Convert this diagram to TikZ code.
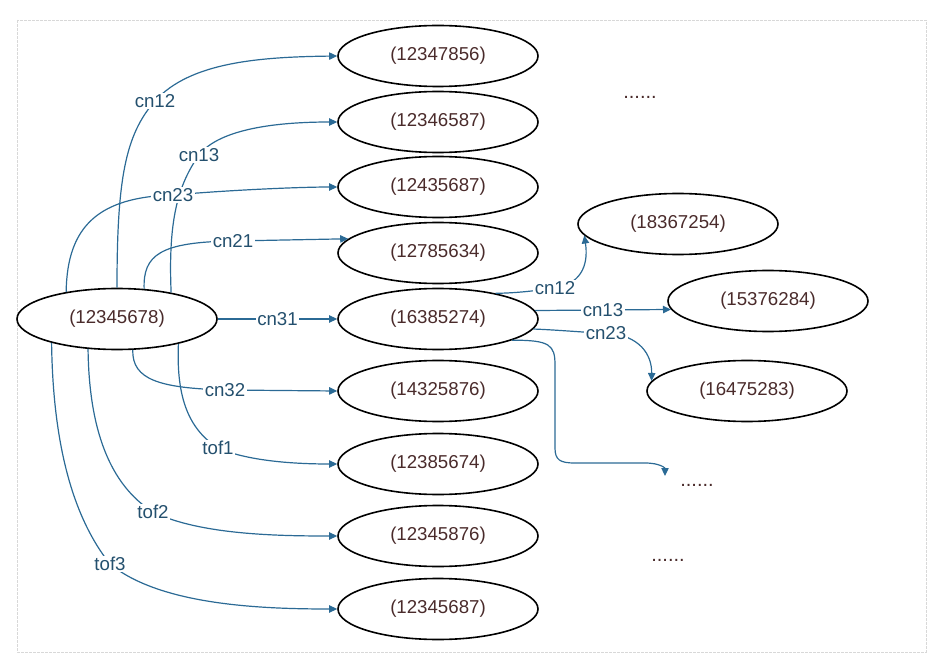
\documentclass[tikz,border=0pt]{standalone}
\usepackage{fontspec}
\setmainfont{Liberation Sans}
\usetikzlibrary{shapes.geometric,arrows.meta}
\definecolor{edgeblue}{HTML}{2B6A95}
\definecolor{lblblue}{HTML}{24506E}
\definecolor{nodetxt}{HTML}{4A2B2B}
\definecolor{framegray}{HTML}{D8D8D8}
\tikzset{
  state/.style={ellipse, draw=black, line width=1.2pt, minimum width=150pt, minimum height=45.75pt, inner sep=0pt, text=nodetxt, font=\fontsize{14}{16}\selectfont},
  edge/.style={draw=edgeblue, line width=0.9pt, -{Triangle[length=6pt,width=5.5pt]}},
  lbl/.style={fill=white, text=lblblue, inner sep=1pt, font=\fontsize{14}{16}\selectfont},
  dots/.style={text=nodetxt, inner sep=0pt, font=\fontsize{15}{16}\selectfont}
}
\begin{document}
\begin{tikzpicture}[x=0.75pt,y=-0.75pt]
\useasboundingbox (0,0) rectangle (938,670);
\draw[framegray, line width=0.6pt, dash pattern=on 2pt off 1pt] (17,20) rectangle (926,652);

\node[state] (A) at (117,319) {(12345678)};
\node[state] (n1) at (438,56) {(12347856)};
\node[state] (n2) at (438,122) {(12346587)};
\node[state] (n3) at (438,187) {(12435687)};
\node[state] (n4) at (438,253) {(12785634)};
\node[state] (B) at (438,319) {(16385274)};
\node[state] (n6) at (438,391) {(14325876)};
\node[state] (n7) at (438,464) {(12385674)};
\node[state] (n8) at (438,536) {(12345876)};
\node[state] (n9) at (438,609) {(12345687)};
\node[state] (C) at (678,224) {(18367254)};
\node[state] (D) at (768,301) {(15376284)};
\node[state] (E) at (747,391) {(16475283)};

\node[dots] (d0) at (640,97) {......};
\node[dots] (d1) at (697,485) {......};
\node[dots] (d2) at (668,560) {......};
\coordinate (q1) at (665,476);

% edges from A
\draw[edge] (A.90) .. controls (117,180) and (125,135) .. (155,101) node[lbl]{cn12}
  .. controls (190,62) and (260,57) .. (n1.west);
\draw[edge] (A.26.8) .. controls (168,220) and (178,185) .. (199,155) node[lbl]{cn13}
  .. controls (220,128) and (280,122) .. (n2.west);
\draw[edge] (A.152.5) .. controls (67,225) and (100,197) .. (173,195) node[lbl]{cn23}
  .. controls (230,190) and (300,187) .. (n3.west);
\draw[edge] (A.48) .. controls (143,255) and (160,242) .. (233,241) node[lbl]{cn21}
  -- (n4.171);
\draw[edge] (A.east) -- node[lbl]{cn31} (B.west);
\draw[edge] (A.-63) .. controls (132,380) and (160,388) .. (225,390) node[lbl]{cn32}
  -- (n6.west);
\draw[edge] (A.-22.3) .. controls (176,400) and (190,430) .. (218,448) node[lbl]{tof1}
  .. controls (250,462) and (300,464) .. (n7.west);
\draw[edge] (A.-134) .. controls (89,430) and (110,485) .. (153,512) node[lbl]{tof2}
  .. controls (200,535) and (280,536) .. (n8.west);
\draw[edge] (A.-160) .. controls (53,450) and (75,520) .. (110,564) node[lbl]{tof3}
  .. controls (160,605) and (260,609) .. (n9.west);

% edges from B
\draw[edge] (B.24.4) .. controls (520,293) and (540,290) .. (555,288) node[lbl]{cn12}
  .. controls (585,283) and (588,260) .. (C.187.8);
\draw[edge] (B.5.4) -- node[lbl]{cn13} (D.185.4);
\draw[edge] (B.-6.7) .. controls (560,330) and (590,333) .. (606,333) node[lbl]{cn23}
  .. controls (640,335) and (652,355) .. (E.174.3);
\draw[edge] (B.-16.5) .. controls (550,340) and (555,345) .. (555,365) -- (555,448)
  .. controls (555,460) and (560,463) .. (575,463) -- (645,463)
  .. controls (660,463) and (665,468) .. (q1);
\end{tikzpicture}
\end{document}
